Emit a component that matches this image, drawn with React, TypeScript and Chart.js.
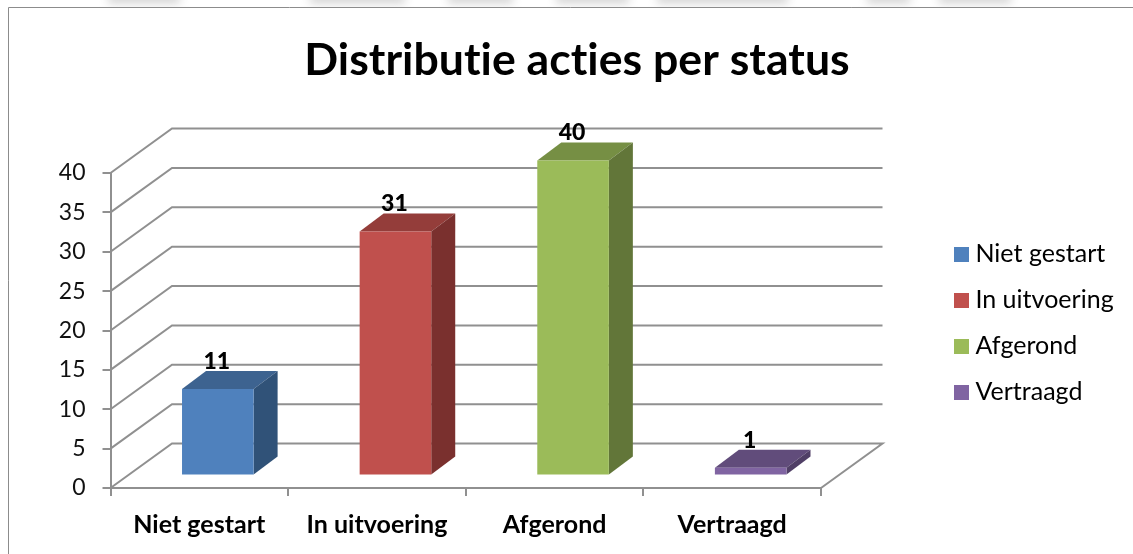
import React, { useEffect, useRef } from "react";
import { Chart, registerables } from "chart.js";

Chart.register(...registerables);

const categories = ["Niet gestart", "In uitvoering", "Afgerond", "Vertraagd"];
const values = [11, 31, 40, 1];
const frontColors = ["#4F81BD", "#C0504D", "#9BBB59", "#8064A2"];
const topColors = ["#3D6390", "#943D3A", "#768F44", "#614C7B"];
const sideColors = ["#305278", "#7A302E", "#627639", "#503F66"];
const chartTitle = "Distributie acties per status";
const gridColor = "#909090";

const WALL_DX = 61.5;
const WALL_DY = -44.5;
const BAR_SHIFT_X = 18.5;
const BAR_SHIFT_Y = -12.5;
const BAR_DX = 24;
const BAR_DY = -18;

function square(color: string) {
  const c = document.createElement("canvas");
  c.width = 15;
  c.height = 15;
  const g = c.getContext("2d")!;
  g.fillStyle = color;
  g.fillRect(0, 0, 15, 15);
  return c;
}

const noLigatures = (chart: any) => {
  chart.ctx.letterSpacing = "0.02px";
};

const pseudo3d = {
  id: "pseudo3d",
  beforeLayout: noLigatures,
  beforeDraw(chart: any) {
    noLigatures(chart);
    const { ctx, width, height } = chart;
    ctx.save();
    ctx.fillStyle = "#fff";
    ctx.fillRect(0, 0, width, height);
    // faint blurred scan residue above the frame
    ctx.save();
    ctx.filter = "blur(5px)";
    ctx.fillStyle = "#cfcfcf";
    [[108, 72], [310, 95], [448, 65], [556, 73], [657, 131], [867, 43], [939, 72]].forEach(([x, w]) => {
      ctx.fillRect(x, -6, w, 9);
    });
    ctx.restore();
    ctx.fillStyle = "#fff";
    ctx.fillRect(0, 7, width, height);
    ctx.strokeStyle = "#8C8C8C";
    ctx.lineWidth = 1;
    ctx.beginPath();
    ctx.moveTo(8.5, height);
    ctx.lineTo(8.5, 7.5);
    ctx.lineTo(width, 7.5);
    ctx.stroke();
    ctx.restore();
  },
  afterLayout(chart: any) {
    const lg = chart.legend;
    lg.left = 938.5;
    lg.right = 1133;
    lg.top = 220.5;
    lg.bottom = 554;
    const tb = chart.titleBlock;
    tb.left = 0;
    tb.right = 1154;
  },
  beforeDatasetsDraw(chart: any) {
    const { ctx, chartArea, scales } = chart;
    const y = scales.y;
    ctx.save();
    ctx.strokeStyle = gridColor;
    ctx.lineWidth = 2;
    y.ticks.forEach((t: any) => {
      const py = y.getPixelForValue(t.value);
      ctx.beginPath();
      ctx.moveTo(chartArea.left, py);
      ctx.lineTo(chartArea.left + WALL_DX, py + WALL_DY);
      ctx.lineTo(chartArea.right + WALL_DX, py + WALL_DY);
      if (t.value === 0) ctx.lineTo(chartArea.right, py);
      ctx.stroke();
    });
    ctx.restore();

    ctx.save();
    ctx.translate(BAR_SHIFT_X, BAR_SHIFT_Y);
    chart.getDatasetMeta(0).data.forEach((bar: any, i: number) => {
      const hw = bar.width / 2;
      const l = bar.x - hw;
      const r = bar.x + hw;
      const t = bar.y;
      const b = bar.base;
      ctx.fillStyle = topColors[i];
      ctx.beginPath();
      ctx.moveTo(l, t);
      ctx.lineTo(l + BAR_DX, t + BAR_DY);
      ctx.lineTo(r + BAR_DX, t + BAR_DY);
      ctx.lineTo(r, t);
      ctx.closePath();
      ctx.fill();
      ctx.fillStyle = sideColors[i];
      ctx.beginPath();
      ctx.moveTo(r, t);
      ctx.lineTo(r + BAR_DX, t + BAR_DY);
      ctx.lineTo(r + BAR_DX, b + BAR_DY);
      ctx.lineTo(r, b);
      ctx.closePath();
      ctx.fill();
    });
  },
  afterDatasetsDraw(chart: any) {
    const { ctx } = chart;
    ctx.restore();
    ctx.save();
    ctx.fillStyle = "#000";
    ctx.font = "900 23px Lato";
    ctx.textAlign = "center";
    ctx.textBaseline = "middle";
    chart.getDatasetMeta(0).data.forEach((bar: any, i: number) => {
      ctx.fillText(String(values[i]), bar.x + BAR_SHIFT_X - 1, bar.y + BAR_SHIFT_Y - 27.5);
    });
    ctx.restore();
  },
};

export default function App() {
  const ref = useRef<HTMLCanvasElement>(null);
  useEffect(() => {
    const chart = new Chart(ref.current!, {
      type: "bar",
      data: {
        labels: categories,
        datasets: [
          {
            data: values,
            backgroundColor: frontColors,
            barPercentage: 0.403,
            categoryPercentage: 1,
            clip: false,
          } as any,
        ],
      },
      options: {
        responsive: false,
        animation: false,
        events: [],
        layout: { padding: { left: 0, right: 212, top: 0, bottom: 0 } },
        plugins: {
          tooltip: { enabled: false },
          title: {
            display: true,
            text: chartTitle,
            color: "#000",
            font: { family: "Lato", size: 44.6, weight: "bold", lineHeight: 1.2 },
            padding: { top: 33.6, bottom: 85.9 },
          },
          legend: {
            display: true,
            position: "right",
            align: "start",
            maxWidth: 100,
            labels: {
              color: "#111",
              font: { family: "Lato", size: 25 },
              padding: 21,
              usePointStyle: true,
              pointStyleWidth: 3.4,
              generateLabels: () =>
                categories.map((c, i) => ({
                  text: c,
                  fillStyle: frontColors[i],
                  strokeStyle: frontColors[i],
                  lineWidth: 0,
                  pointStyle: square(frontColors[i]),
                  hidden: false,
                  index: i,
                })),
            },
          } as any,
        },
        scales: {
          x: {
            type: "category",
            afterFit: (s: any) => {
              s.height = 66;
            },
            grid: {
              drawOnChartArea: false,
              color: gridColor,
              lineWidth: 2,
              tickLength: 8,
            },
            border: { color: gridColor, width: 2 },
            ticks: {
              color: "#000",
              font: { family: "Lato", size: 25, weight: "bold" },
              padding: 14,
              maxRotation: 0,
              autoSkip: false,
            },
          },
          y: {
            min: 0,
            max: 40,
            afterFit: (s: any) => {
              s.width = 110.5;
            },
            grid: {
              drawOnChartArea: false,
              color: gridColor,
              lineWidth: 2,
              tickLength: 8,
            },
            border: { color: gridColor, width: 2 },
            ticks: {
              stepSize: 5,
              color: "#111",
              font: { family: "Lato", size: 23 },
              padding: 17,
            },
          },
        },
      },
      plugins: [pseudo3d],
    } as any);
    return () => chart.destroy();
  }, []);
  return (
    <div style={{ position: "fixed", left: 0, top: 0, width: 1133, height: 554, background: "#fff" }}>
      <canvas ref={ref} width={1133} height={554} style={{ display: "block", width: 1133, height: 554 }} />
    </div>
  );
}
